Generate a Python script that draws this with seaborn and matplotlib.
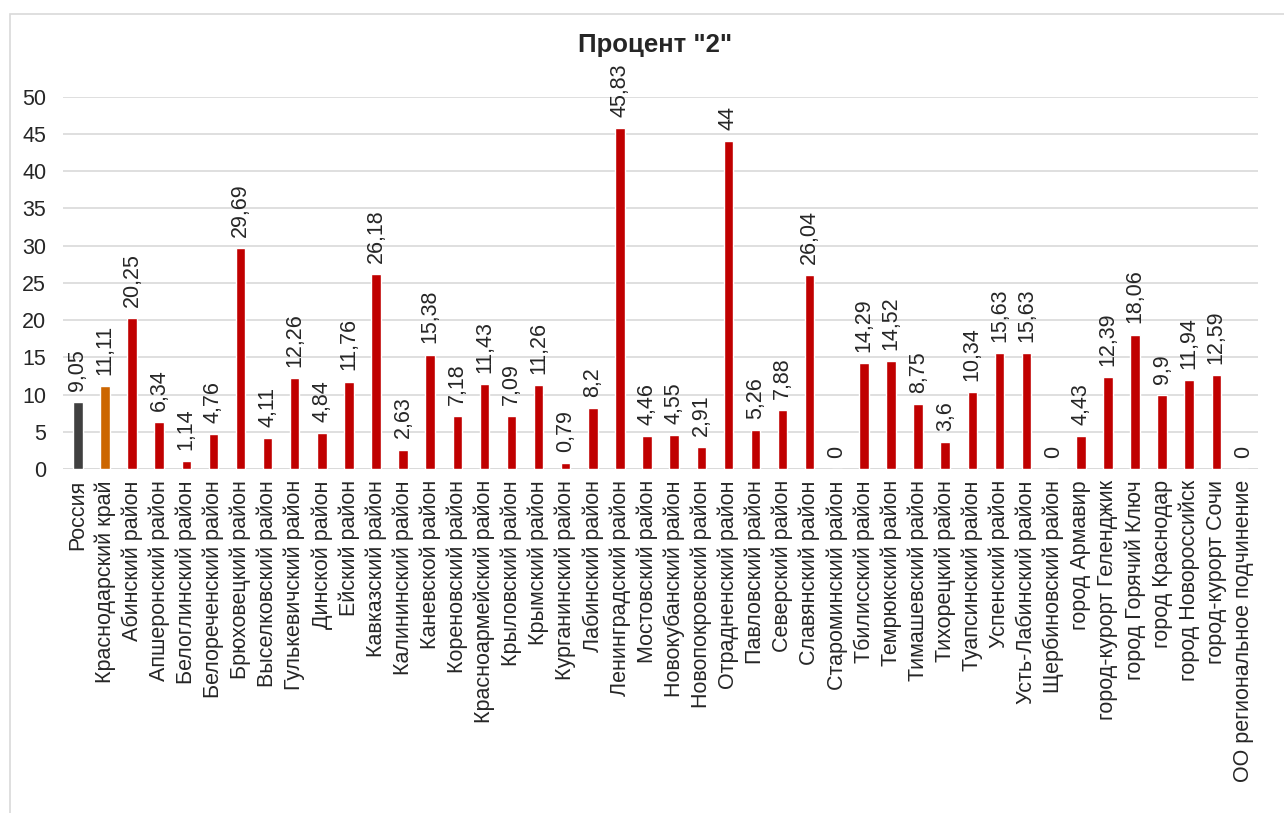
import seaborn as sns
import matplotlib.pyplot as plt
import pandas as pd
from matplotlib.patches import Rectangle

categories = [
    "Россия", "Краснодарский край", "Абинский район", "Апшеронский район",
    "Белоглинский район", "Белореченский район", "Брюховецкий район",
    "Выселковский район", "Гулькевичский район", "Динской район", "Ейский район",
    "Кавказский район", "Калининский район", "Каневской район", "Кореновский район",
    "Красноармейский район", "Крыловский район", "Крымский район",
    "Курганинский район", "Лабинский район", "Ленинградский район",
    "Мостовский район", "Новокубанский район", "Новопокровский район",
    "Отрадненский район", "Павловский район", "Северский район",
    "Славянский район", "Староминский район", "Тбилисский район",
    "Темрюкский район", "Тимашевский район", "Тихорецкий район",
    "Туапсинский район", "Успенский район", "Усть-Лабинский район",
    "Щербиновский район", "город Армавир", "город-курорт Геленджик",
    "город Горячий Ключ", "город Краснодар", "город Новороссийск",
    "город-курорт Сочи", "ОО региональное подчинение",
]
values = [
    9.05, 11.11, 20.25, 6.34, 1.14, 4.76, 29.69, 4.11, 12.26, 4.84, 11.76,
    26.18, 2.63, 15.38, 7.18, 11.43, 7.09, 11.26, 0.79, 8.2, 45.83, 4.46,
    4.55, 2.91, 44, 5.26, 7.88, 26.04, 0, 14.29, 14.52, 8.75, 3.6, 10.34,
    15.63, 15.63, 0, 4.43, 12.39, 18.06, 9.9, 11.94, 12.59, 0,
]
colors = ["#404040", "#CC6600"] + ["#C00000"] * (len(categories) - 2)

df = pd.DataFrame({"name": categories, "value": values})

sns.set_style("white")
plt.rcParams["font.family"] = ["Liberation Sans", "DejaVu Sans"]

fig = plt.figure(figsize=(12.84, 8.13), dpi=100)
ax = fig.add_axes([0.049, 0.423, 0.931, 0.458])

sns.barplot(data=df, x="name", y="value", hue="name", palette=colors,
            legend=False, width=0.35, ax=ax, saturation=1)

ax.set_ylim(0, 50)
ax.set_yticks(range(0, 51, 5))
ax.yaxis.grid(True, color="#d9d9d9", linewidth=1.2)
ax.set_axisbelow(True)
for s in ax.spines.values():
    s.set_visible(False)
ax.axhline(0, color="#d9d9d9", linewidth=1.2, zorder=0)
ax.set_xlabel("")
ax.set_ylabel("")
ax.tick_params(axis="y", labelsize=15.5, length=0, pad=12)
ax.tick_params(axis="x", labelsize=15.5, length=0, pad=8)
ax.set_xticks(range(len(categories)))
ax.set_xticklabels(categories, rotation=90)
ax.set_xlim(-0.55, len(categories) - 0.45)

for i, v in enumerate(values):
    ax.annotate(f"{v:g}".replace(".", ","), (i, v), xytext=(0, 8),
                textcoords="offset points", rotation=90, ha="center",
                va="bottom", fontsize=15.5, annotation_clip=False)

fig.text(0.51, 0.945, 'Процент "2"', ha="center", va="center",
         fontsize=18.5, fontweight="bold")

fig.patches.append(Rectangle((10 / 1284, -0.1), 1.1, 1 - 14 / 813 + 0.1,
                             transform=fig.transFigure, fill=False,
                             edgecolor="#d9d9d9", linewidth=1.2))

fig.savefig("out.png", dpi=100)
